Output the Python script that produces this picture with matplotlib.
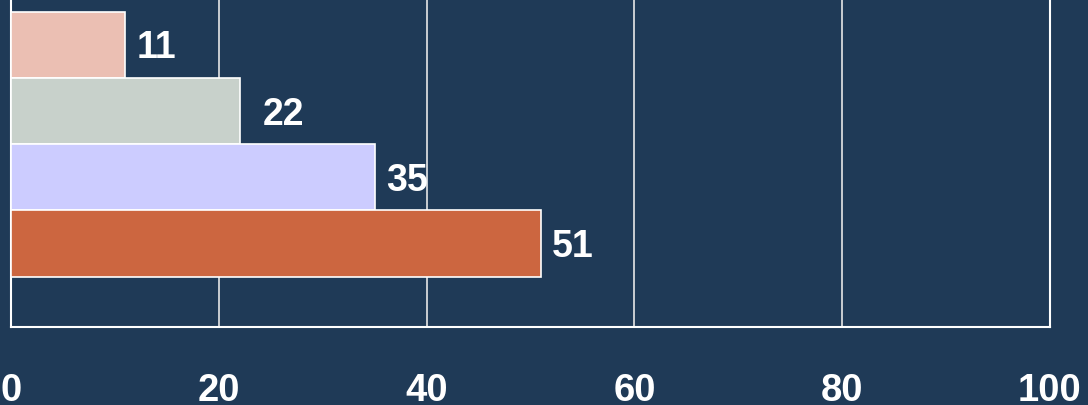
import matplotlib.pyplot as plt

# Data (top to bottom as shown)
values = [11, 22, 35, 51]
bar_colors = ["#EBBFB3", "#C8D1CB", "#CCCCFF", "#CC6640"]
x_ticks = [0, 20, 40, 60, 80, 100]

# label offsets in points (style only)
label_pad = [8, 16.5, 8, 8]

bg = "#1F3A57"
plt.rcParams["font.family"] = ["Liberation Sans", "DejaVu Sans"]

fig = plt.figure(figsize=(10.88, 4.05), dpi=100, facecolor=bg)
ax = fig.add_axes([11 / 1088, 78 / 405, 1039 / 1088, 327 / 405])
ax.set_facecolor(bg)

n = len(values)
ypos = list(range(n - 1, -1, -1))
ax.barh(ypos, values, height=1.0, color=bar_colors, edgecolor="white",
        linewidth=1.2, zorder=3)

for y, v, p in zip(ypos, values, label_pad):
    ax.annotate(str(v), (v, y), xytext=(p, -2.5), textcoords="offset points",
                color="white", fontsize=27, fontweight="bold",
                va="center", ha="left", zorder=4)

ax.set_xlim(0, 100)
ax.set_ylim(-1.26, 3.68)
ax.set_xticks(x_ticks)
ax.set_yticks([])
ax.xaxis.grid(True, color="#E6E6E6", linewidth=1.2, zorder=1)
ax.tick_params(axis="x", length=0, pad=33, labelsize=27.5, labelcolor="white")
for lbl in ax.get_xticklabels():
    lbl.set_fontweight("bold")

for side in ["left", "right", "bottom"]:
    ax.spines[side].set_color("white")
    ax.spines[side].set_linewidth(1.5)
ax.spines["top"].set_visible(False)

fig.savefig("out.png", dpi=100, facecolor=bg)
